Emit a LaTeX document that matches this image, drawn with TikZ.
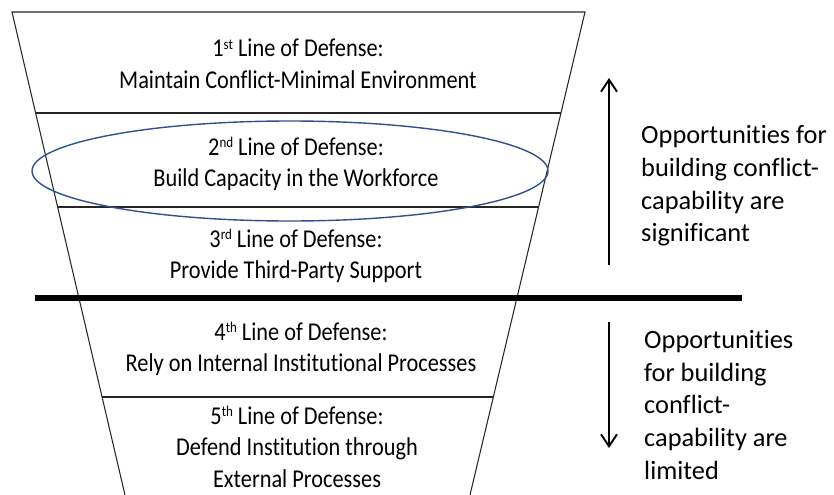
\documentclass[tikz,border=0pt]{standalone}
\usepackage{fontspec}
\setmainfont[Ligatures=NoCommon]{Carlito}
\newfontfamily\funnelfont[FakeStretch=0.87, Ligatures=NoCommon]{Carlito}
\usepackage{xcolor}
\usetikzlibrary{shapes.geometric, arrows.meta}
\definecolor{ringblue}{HTML}{2F528F}
\newcommand{\ordsfx}[1]{\raisebox{0.62ex}{\fontsize{8.5}{8.5}\selectfont #1}}
\tikzstyle{edge} = [draw=black!85, line width=0.6pt]
\tikzstyle{cutline} = [draw=black, line width=3.5pt]
\tikzstyle{stage} = [text centered, align=center, font=\funnelfont\fontsize{14.6}{18}\selectfont]
\tikzstyle{note} = [anchor=west, align=left, font=\fontsize{15}{18.6}\selectfont]
\tikzstyle{ring} = [ellipse, draw=ringblue, line width=0.8pt, minimum width=10.32cm, minimum height=2cm]
\tikzstyle{arrow} = [line width=1.1pt, -{Straight Barb[length=2.4mm, width=3.2mm]}]

\begin{document}
\begin{tikzpicture}

    \useasboundingbox (0,0) rectangle (16.68,-9.9);

    % Funnel outline
    \coordinate (tl) at (0.24,-0.24);
    \coordinate (tr) at (11.70,-0.24);
    \coordinate (bl) at (2.50,-9.90);
    \coordinate (br) at (9.40,-9.90);
    \draw [edge] (bl) -- (tl) -- (tr) -- (br);

    % Dividers
    \coordinate (d1l) at (0.712,-2.26);
    \coordinate (d1r) at (11.22,-2.26);
    \coordinate (d2l) at (1.152,-4.14);
    \coordinate (d2r) at (10.772,-4.14);
    \coordinate (d4l) at (2.04,-7.94);
    \coordinate (d4r) at (9.868,-7.94);
    \coordinate (cutl) at (0.70,-5.96);
    \coordinate (cutr) at (14.84,-5.96);
    \draw [edge] (d1l) -- (d1r);
    \draw [edge] (d2l) -- (d2r);
    \draw [edge] (d4l) -- (d4r);
    \draw [cutline] (cutl) -- (cutr);

    % Nodes
    \node (first) [stage] at (5.96,-1.28) {1\ordsfx{st} Line of Defense:\\Maintain Conflict-Minimal Environment};
    \node (second) [stage] at (5.92,-3.28) {2\ordsfx{nd} Line of Defense:\\Build Capacity in the Workforce};
    \node (third) [stage] at (5.92,-5.12) {3\ordsfx{rd} Line of Defense:\\Provide Third-Party Support};
    \node (fourth) [stage] at (6.02,-6.98) {4\ordsfx{th} Line of Defense:\\Rely on Internal Institutional Processes};
    \node (fifth) [stage] at (5.94,-8.94) {5\ordsfx{th} Line of Defense:\\Defend Institution through\\External Processes};
    \node (focus) [ring] at (5.80,-3.42) {};

    \node (high) [note] at (12.70,-3.72) {Opportunities for\\building conflict-\\capability are\\significant};
    \node (low) [note] at (12.76,-8.10) {Opportunities\\for building\\conflict-\\capability are\\limited};

    % Arrows
    \coordinate (upfrom) at (12.18,-5.30);
    \coordinate (upto) at (12.18,-1.56);
    \coordinate (downfrom) at (12.18,-6.44);
    \coordinate (downto) at (12.18,-8.96);
    \draw [arrow] (upfrom) -- (upto);
    \draw [arrow] (downfrom) -- (downto);

\end{tikzpicture}
\end{document}
